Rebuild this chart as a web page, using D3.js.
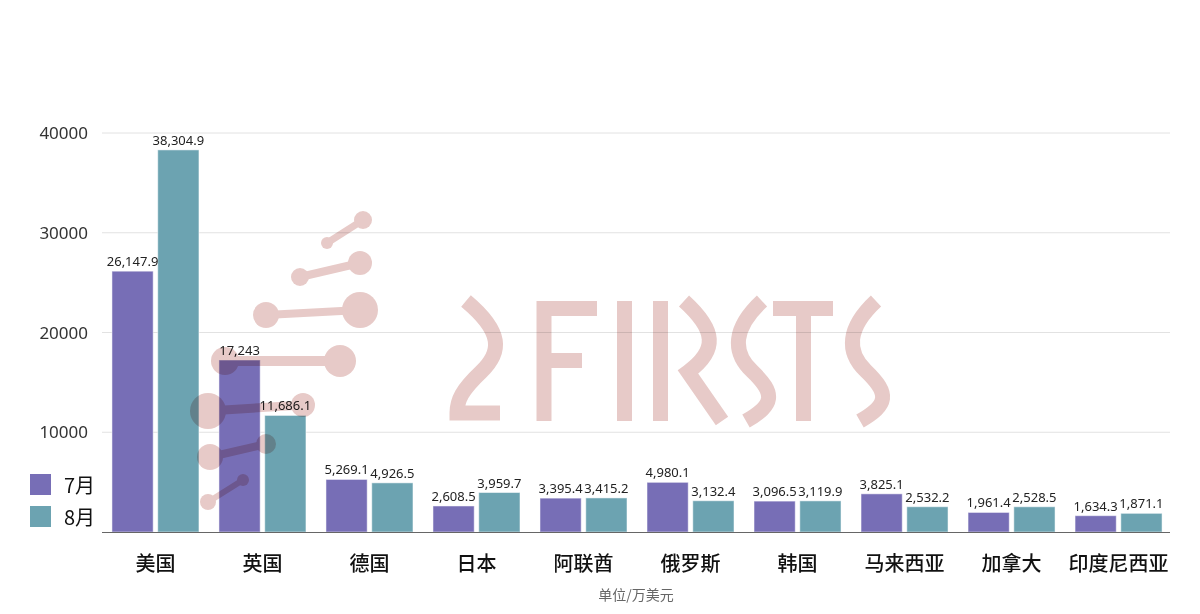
<!DOCTYPE html>
<html><head><meta charset="utf-8">
<script src="https://cdn.jsdelivr.net/npm/d3@7"></script>
<style>
html,body{margin:0;padding:0;background:#fff;}
svg{display:block;font-family:"Noto Sans","Noto Sans CJK SC",sans-serif;}
</style></head>
<body><svg id="c" width="1200" height="614"></svg>
<script>
const categories = ["美国","英国","德国","日本","阿联酋","俄罗斯","韩国","马来西亚","加拿大","印度尼西亚"];
const seriesNames = ["7月","8月"];
const july = [26147.9,17243,5269.1,2608.5,3395.4,4980.1,3096.5,3825.1,1961.4,1634.3];
const august = [38304.9,11686.1,4926.5,3959.7,3415.2,3132.4,3119.9,2532.2,2528.5,1871.1];
const yTicks = [10000,20000,30000,40000];
const labelsJul = ["26,147.9","17,243","5,269.1","2,608.5","3,395.4","4,980.1","3,096.5","3,825.1","1,961.4","1,634.3"];
const labelsAug = ["38,304.9","11,686.1","4,926.5","3,959.7","3,415.2","3,132.4","3,119.9","2,532.2","2,528.5","1,871.1"];
const colors = ["#776eb6","#6ca3b1"];

const svg = d3.select("#c");
const x0 = d3.scaleBand().domain(categories).range([102,1172]).paddingInner(0.187).paddingOuter(0.093);
const x1 = d3.scaleBand().domain(seriesNames).range([0,x0.bandwidth()]).paddingInner(0.1);
const y = d3.scaleLinear().domain([0,40000]).range([532,133]);

// grid
svg.append("g").selectAll("line").data(yTicks).join("line")
  .attr("x1",102).attr("x2",1170).attr("y1",d=>y(d)).attr("y2",d=>y(d))
  .attr("stroke","#e2e2e2").attr("stroke-width",1);
// y labels
svg.append("g").selectAll("text").data(yTicks).join("text")
  .attr("x",88).attr("y",d=>y(d)+6).attr("text-anchor","end")
  .attr("font-size",17).attr("fill","#333").text(d=>d);

const data = categories.map((c,i)=>({c, vals:[{s:seriesNames[0],v:july[i],l:labelsJul[i]},{s:seriesNames[1],v:august[i],l:labelsAug[i]}]}));
const g = svg.append("g").selectAll("g").data(data).join("g").attr("transform",d=>`translate(${x0(d.c)},0)`);
g.selectAll("rect").data(d=>d.vals).join("rect")
  .attr("x",d=>x1(d.s)).attr("width",x1.bandwidth())
  .attr("y",d=>y(d.v)).attr("height",d=>y(0)-y(d.v))
  .attr("fill",(d,i)=>colors[i]).attr("stroke","#fff").attr("stroke-opacity",0.5).attr("stroke-width",1);
g.selectAll("text").data(d=>d.vals).join("text")
  .attr("x",d=>x1(d.s)+x1.bandwidth()/2).attr("y",d=>y(d.v)-5)
  .attr("text-anchor","middle").attr("font-size",13).attr("fill","#222").text(d=>d.l);

// axis line
svg.append("line").attr("x1",102).attr("x2",1170).attr("y1",532.5).attr("y2",532.5).attr("stroke","#666").attr("stroke-width",1.2);
// category labels
svg.append("g").selectAll("text").data(categories).join("text")
  .attr("x",d=>x0(d)+x0.bandwidth()/2).attr("y",571).attr("text-anchor","middle")
  .attr("font-size",20).attr("font-weight",500).attr("fill","#111").attr("font-family","Noto Sans CJK SC").text(d=>d);
svg.append("text").attr("x",636).attr("y",600).attr("text-anchor","middle").attr("font-size",14)
  .attr("fill","#666").attr("font-family","Noto Sans CJK SC").text("单位/万美元");

// legend
const lg = svg.append("g").selectAll("g").data(seriesNames).join("g").attr("transform",(d,i)=>`translate(30,${474+i*32})`);
lg.append("rect").attr("width",21).attr("height",21).attr("fill",(d,i)=>colors[i]);
lg.append("text").attr("x",34).attr("y",19).attr("font-size",20).attr("fill","#111").attr("font-family","Noto Sans CJK SC").text(d=>d);

// watermark (decorative)
const wm = svg.append("g").style("mix-blend-mode","multiply").attr("opacity",0.85);
const pink = "#e3c1be";
const dumb = [[327,243,6,363,220,9,7],[300,277,9,360,263,12,8],[266,315,13,360,310,18,8],[225,361,14,340,361,16,10],[208,411,18,303,405,12,9],[210,457,13,266,444,10,8],[208,502,8,243,480,6,6]];
const wmG = wm.append("g");
dumb.forEach(d=>{
  wmG.append("line").attr("x1",d[0]).attr("y1",d[1]).attr("x2",d[3]).attr("y2",d[4]).attr("stroke",pink).attr("stroke-width",d[6]);
  wmG.append("circle").attr("cx",d[0]).attr("cy",d[1]).attr("r",d[2]).attr("fill",pink);
  wmG.append("circle").attr("cx",d[3]).attr("cy",d[4]).attr("r",d[5]).attr("fill",pink);
});
const letters = [
 "M466 301 C503 332, 502 352, 481 372 C462 390, 457 400, 457 413 L500 413",
 "M544 301 L544 421 M537 308.5 L597 308.5 M537 360.5 L582 360.5",
 "M624.5 301 L624.5 421",
 "M660.5 301 L660.5 421",
 "M684 301 C716 330, 718 350, 688 372 L722 421",
 "M762 301 C733 328, 732 352, 752 371 C776 394, 774 405, 746 421",
 "M773 308.5 L833 308.5 M803.5 301 L803.5 421",
 "M876 301 C847 328, 846 352, 866 371 C890 394, 888 405, 860 421"
];
wm.append("g").selectAll("path").data(letters).join("path").attr("d",d=>d)
  .attr("fill","none").attr("stroke",pink).attr("stroke-width",15);
</script></body></html>
